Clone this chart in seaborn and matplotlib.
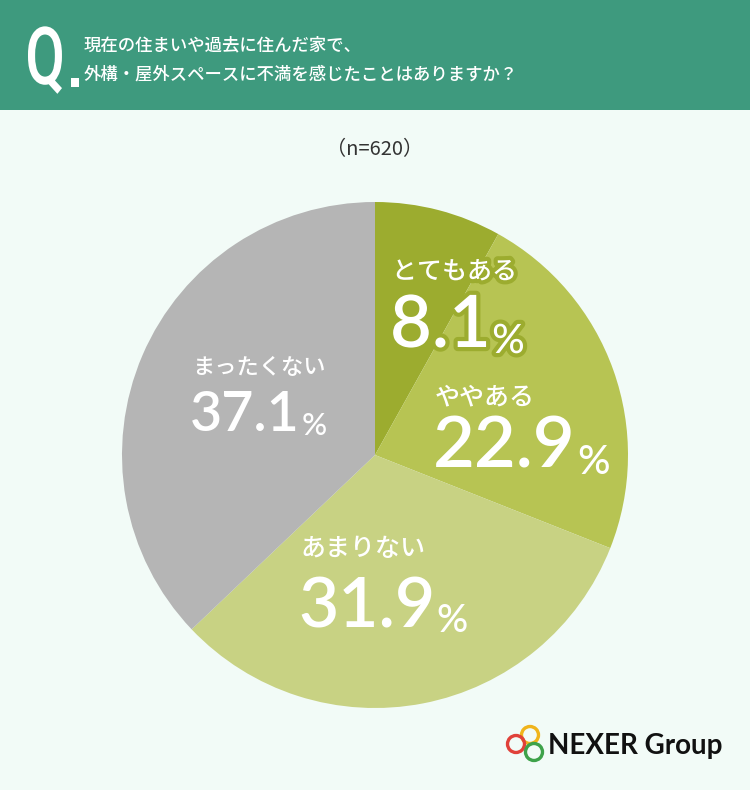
import matplotlib
matplotlib.use('Agg')
import matplotlib.pyplot as plt
import matplotlib.patheffects as pe
from matplotlib.patches import Rectangle, Circle, PathPatch
from matplotlib.textpath import TextPath
from matplotlib.font_manager import FontProperties
from matplotlib.transforms import Affine2D
import seaborn as sns

# data
labels = ['とてもある', 'ややある', 'あまりない', 'まったくない']
values = [8.1, 22.9, 31.9, 37.1]
colors = ['#9cac2f', '#b7c453', '#c8d283', '#b5b5b5']
title_lines = ['現在の住まいや過去に住んだ家で、', '外構・屋外スペースに不満を感じたことはありますか？']
sample_note = '（n=620）'

sns.set_theme(style='white')
plt.rcParams['font.family'] = ['Noto Sans CJK JP', 'DejaVu Sans']

W, H = 750, 790
fig = plt.figure(figsize=(7.5, 7.9), dpi=100)
fig.patch.set_facecolor('#f2fbf7')

# pie
cx, cy, r = 375, 455, 253
ax = fig.add_axes([(cx - r) / W, (H - cy - r) / H, 2 * r / W, 2 * r / H])
ax.pie(values, colors=colors, startangle=90, counterclock=False,
       wedgeprops=dict(linewidth=0))
ax.set_xlim(-1, 1)
ax.set_ylim(-1, 1)
ax.set_aspect('equal')
ax.axis('off')

# overlay in pixel coords, on top of the pie
bg = fig.add_axes([0, 0, 1, 1], zorder=5)
bg.set_xlim(0, W)
bg.set_ylim(H, 0)
bg.axis('off')
bg.patch.set_alpha(0)

# header band
bg.add_patch(Rectangle((0, 0), W, 110, color='#3e9a7e', lw=0))
# condensed "Q"
qpath = TextPath((0, 0), 'Q', size=80, prop=FontProperties(family='Roboto', weight='medium'))
ext = qpath.get_extents()
sx = 34 / ext.width
tr = Affine2D().translate(-ext.x0, 0).scale(sx, -1.0).translate(28, 84)
bg.add_patch(PathPatch(tr.transform_path(qpath), color='white', lw=0))
bg.add_patch(Rectangle((71, 78), 8, 9, color='white', lw=0))
bg.text(84, 45, title_lines[0], color='white', fontsize=12.5, fontweight='medium',
        ha='left', va='center')
bg.text(84, 75, title_lines[1], color='white', fontsize=12.5, fontweight='medium',
        ha='left', va='center')

bg.text(375, 150, sample_note, color='#333333', fontsize=14.5, ha='center', va='center')

# slice labels (pixel positions)
label_pos = [(392, 272, 347, 52, 18), (435, 397, 468, 52, 18),
             (300, 549, 627, 50, 18), (192, 368, 431, 40, 16)]
for i, (lab, val) in enumerate(zip(labels, values)):
    x, ly, ny, nsize, lsize = label_pos[i]
    effects = [pe.withStroke(linewidth=6, foreground=colors[0])] if i == 0 else None
    bg.text(x, ly, lab, color='white', fontsize=lsize, fontweight='medium',
            ha='left', va='center', path_effects=effects)
    num = bg.text(x - 2, ny, f'{val:.1f}', color='white', fontsize=nsize,
                  fontweight='semibold', family='Lato', ha='left', va='baseline',
                  path_effects=effects)
    bg.annotate('%', xy=(1, 0), xycoords=num, xytext=(1, 0), textcoords='offset points',
                color='white', fontsize=nsize * 0.56, fontweight='medium', family='Lato',
                ha='left', va='bottom', path_effects=effects)

# logo
for (x, y, c) in [(530, 735, '#f0b41c'), (516, 744, '#e0413a'), (534, 752, '#3ea24a')]:
    bg.add_patch(Circle((x, y), 8.5, fill=False, ec=c, lw=2.4))
bg.text(548, 746, 'NEXER Group', color='#111111', fontsize=20, fontweight='bold',
        family='Lato', ha='left', va='center')

fig.savefig('out.png', dpi=100, facecolor=fig.get_facecolor())
